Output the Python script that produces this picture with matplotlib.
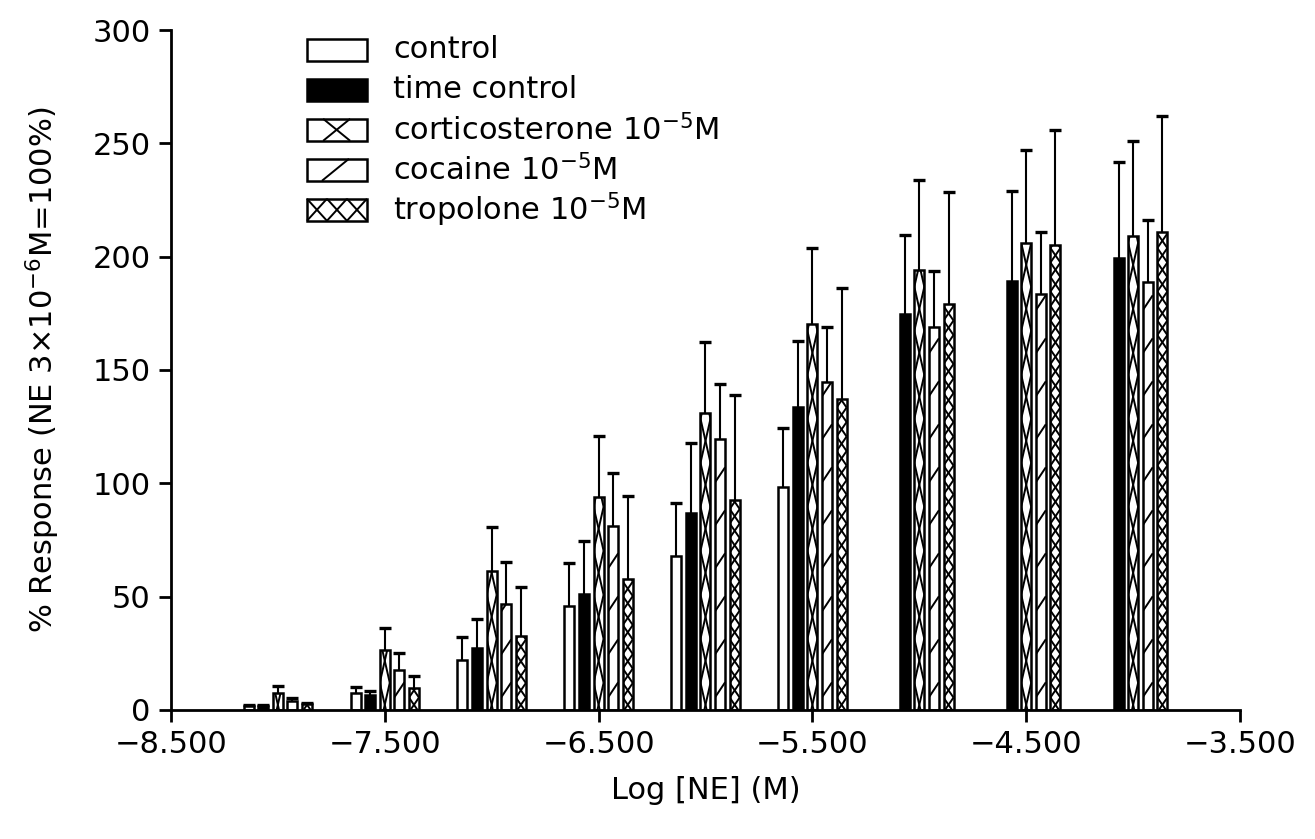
import matplotlib
matplotlib.use('Agg')
import matplotlib.pyplot as plt
import numpy as np
from matplotlib.collections import LineCollection
from matplotlib.patches import Rectangle

# log concentration of noradrenaline for each group of bars
log_ne = [-8.0, -7.5, -7.0, -6.5, -6.0, -5.5, -5.0, -4.5, -4.0]

series_names = ['control', 'time control', 'corticosterone 10$^{-5}$M',
                'cocaine 10$^{-5}$M', 'tropolone 10$^{-5}$M']

# mean % response and SEM for each series (nan = not measured)
nan = np.nan
control_mean = [1.5, 7.3, 22.0, 45.6, 68.0, 98.5, nan, nan, nan]
control_sem = [0.5, 2.7, 10.3, 19.1, 23.5, 26.0, nan, nan, nan]
time_mean = [1.5, 6.6, 27.2, 51.2, 86.8, 133.8, 174.9, 189.5, 199.5]
time_sem = [0.5, 1.9, 12.8, 23.5, 30.8, 29.1, 34.6, 39.5, 42.3]
cort_mean = [7.6, 26.5, 61.3, 93.8, 130.9, 170.3, 194.0, 206.0, 209.0]
cort_sem = [3.0, 9.5, 19.6, 27.1, 31.6, 33.7, 40.0, 41.0, 42.0]
cocaine_mean = [3.8, 17.6, 46.6, 81.2, 119.5, 144.8, 169.0, 183.5, 189.0]
cocaine_sem = [1.2, 7.4, 18.5, 23.5, 24.5, 24.0, 24.7, 27.5, 27.0]
trop_mean = [2.5, 9.6, 32.6, 57.6, 92.6, 137.0, 179.3, 205.0, 211.0]
trop_sem = [0.7, 5.4, 21.5, 36.8, 46.4, 49.0, 49.4, 51.0, 51.0]

x_ticks = [-8.5, -7.5, -6.5, -5.5, -4.5, -3.5]
y_ticks = [0, 50, 100, 150, 200, 250, 300]

means = [control_mean, time_mean, cort_mean, cocaine_mean, trop_mean]
sems = [control_sem, time_sem, cort_sem, cocaine_sem, trop_sem]
fills = ['white', 'black', 'white', 'white', 'white']
patterns = [None, None, 'xbig', 'slash', 'xsmall']

plt.rcParams['font.family'] = 'DejaVu Sans'
plt.rcParams['mathtext.fontset'] = 'dejavusans'

fig = plt.figure(figsize=(13.15, 8.39), dpi=100)
ax = fig.add_axes([0.130, 0.154, 0.813, 0.810])
ax.set_xlim(-8.5, -3.5)
ax.set_ylim(0, 300)

# size of one screen pixel in data units
ax_w_px = fig.get_figwidth() * fig.dpi * 0.813
ax_h_px = fig.get_figheight() * fig.dpi * 0.810
dx = 5.0 / ax_w_px
dy = 300.0 / ax_h_px


def x_chain(x0, w, top, period, first):
    # pairs of crossing diagonals, crossings at first + k*period
    segs = []
    c = first - period
    while c - period / 2 < top:
        lo, hi = c - period / 2, c + period / 2
        segs.append([(x0, lo), (x0 + w, hi)])
        segs.append([(x0 + w, lo), (x0, hi)])
        c += period
    return segs


def slashes(x0, w, top, period, first, rise):
    segs = []
    c = first
    while c - rise / 2 < top:
        segs.append([(x0, c - rise / 2), (x0 + w, c + rise / 2)])
        c += period
    return segs


def bar_pattern(kind, x0, w, top):
    if kind == 'xbig':
        return x_chain(x0, w, top, 44 * dy, 5 * dy)
    if kind == 'xsmall':
        return x_chain(x0, w, top, 14.5 * dy, 5 * dy)
    if kind == 'slash':
        return slashes(x0, w, top, 43 * dy, 20 * dy, 15 * dy)
    return []


pitch = 14.6 * dx
width = 10 * dx
cap = 6 * dx
for i in range(5):
    xs = np.array(log_ne) + (i - 2) * pitch
    m = np.array(means[i])
    s = np.array(sems[i])
    ok = ~np.isnan(m)
    bars = ax.bar(xs[ok], m[ok], width=width, color=fills[i],
                  edgecolor='black', linewidth=1.8, zorder=2)
    if patterns[i]:
        for rect in bars.patches:
            segs = bar_pattern(patterns[i], rect.get_x(), rect.get_width(), rect.get_height())
            lc = LineCollection(segs, colors='black', linewidths=1.4, zorder=3)
            ax.add_collection(lc)
            lc.set_clip_path(rect)
    # upper half of the error bar only
    ax.vlines(xs[ok], m[ok], m[ok] + s[ok], color='black', linewidth=1.5, zorder=1)
    ax.hlines(m[ok] + s[ok], xs[ok] - cap, xs[ok] + cap, color='black', linewidth=2.4, zorder=1)

# legend drawn by hand so the rows sit close together
fx = 1.0 / ax_w_px
fy = 1.0 / ax_h_px
box_x, box_w, box_h = 136 * fx, 60 * fx, 22 * fy
row_top = 660 * fy
row_step = 40 * fy
for i, name in enumerate(series_names):
    yc = row_top - i * row_step
    y0 = yc - box_h / 2
    rect = Rectangle((box_x, y0), box_w, box_h, transform=ax.transAxes,
                     facecolor=fills[i], edgecolor='black', linewidth=1.8,
                     clip_on=False)
    ax.add_patch(rect)
    segs = []
    if patterns[i] == 'xbig':
        a, b = box_x + 0.27 * box_w, box_x + 0.72 * box_w
        segs = [[(a, y0), (b, y0 + box_h)], [(b, y0), (a, y0 + box_h)]]
    elif patterns[i] == 'slash':
        a, b = box_x + 0.25 * box_w, box_x + 0.70 * box_w
        segs = [[(a, y0), (b, y0 + box_h)]]
    elif patterns[i] == 'xsmall':
        cw = box_w / 3
        for k in range(3):
            a, b = box_x + k * cw, box_x + (k + 1) * cw
            segs += [[(a, y0), (b, y0 + box_h)], [(b, y0), (a, y0 + box_h)]]
    if segs:
        ax.add_collection(LineCollection(segs, colors='black', linewidths=1.4,
                                         transform=ax.transAxes, clip_on=False))
    ax.text(box_x + box_w + 26 * fx, yc, name, transform=ax.transAxes,
            va='center', ha='left', fontsize=22)

ax.spines['top'].set_visible(False)
ax.spines['right'].set_visible(False)
ax.spines['left'].set_linewidth(2.0)
ax.spines['bottom'].set_linewidth(2.0)

ax.set_xticks(x_ticks)
ax.set_xticklabels(['{:.3f}'.format(v).replace('-', '\u2212') for v in x_ticks])
ax.set_yticks(y_ticks)
ax.set_yticklabels([str(v) for v in y_ticks])
ax.tick_params(direction='out', length=8.5, width=2.0, labelsize=22, pad=6)

ax.set_xlabel('Log [NE] (M)', fontsize=22, labelpad=12)
ax.set_ylabel('% Response (NE 3\u00d710$^{-6}$M=100%)', fontsize=22, labelpad=22)

fig.savefig('out.png', dpi=100, facecolor='white')
